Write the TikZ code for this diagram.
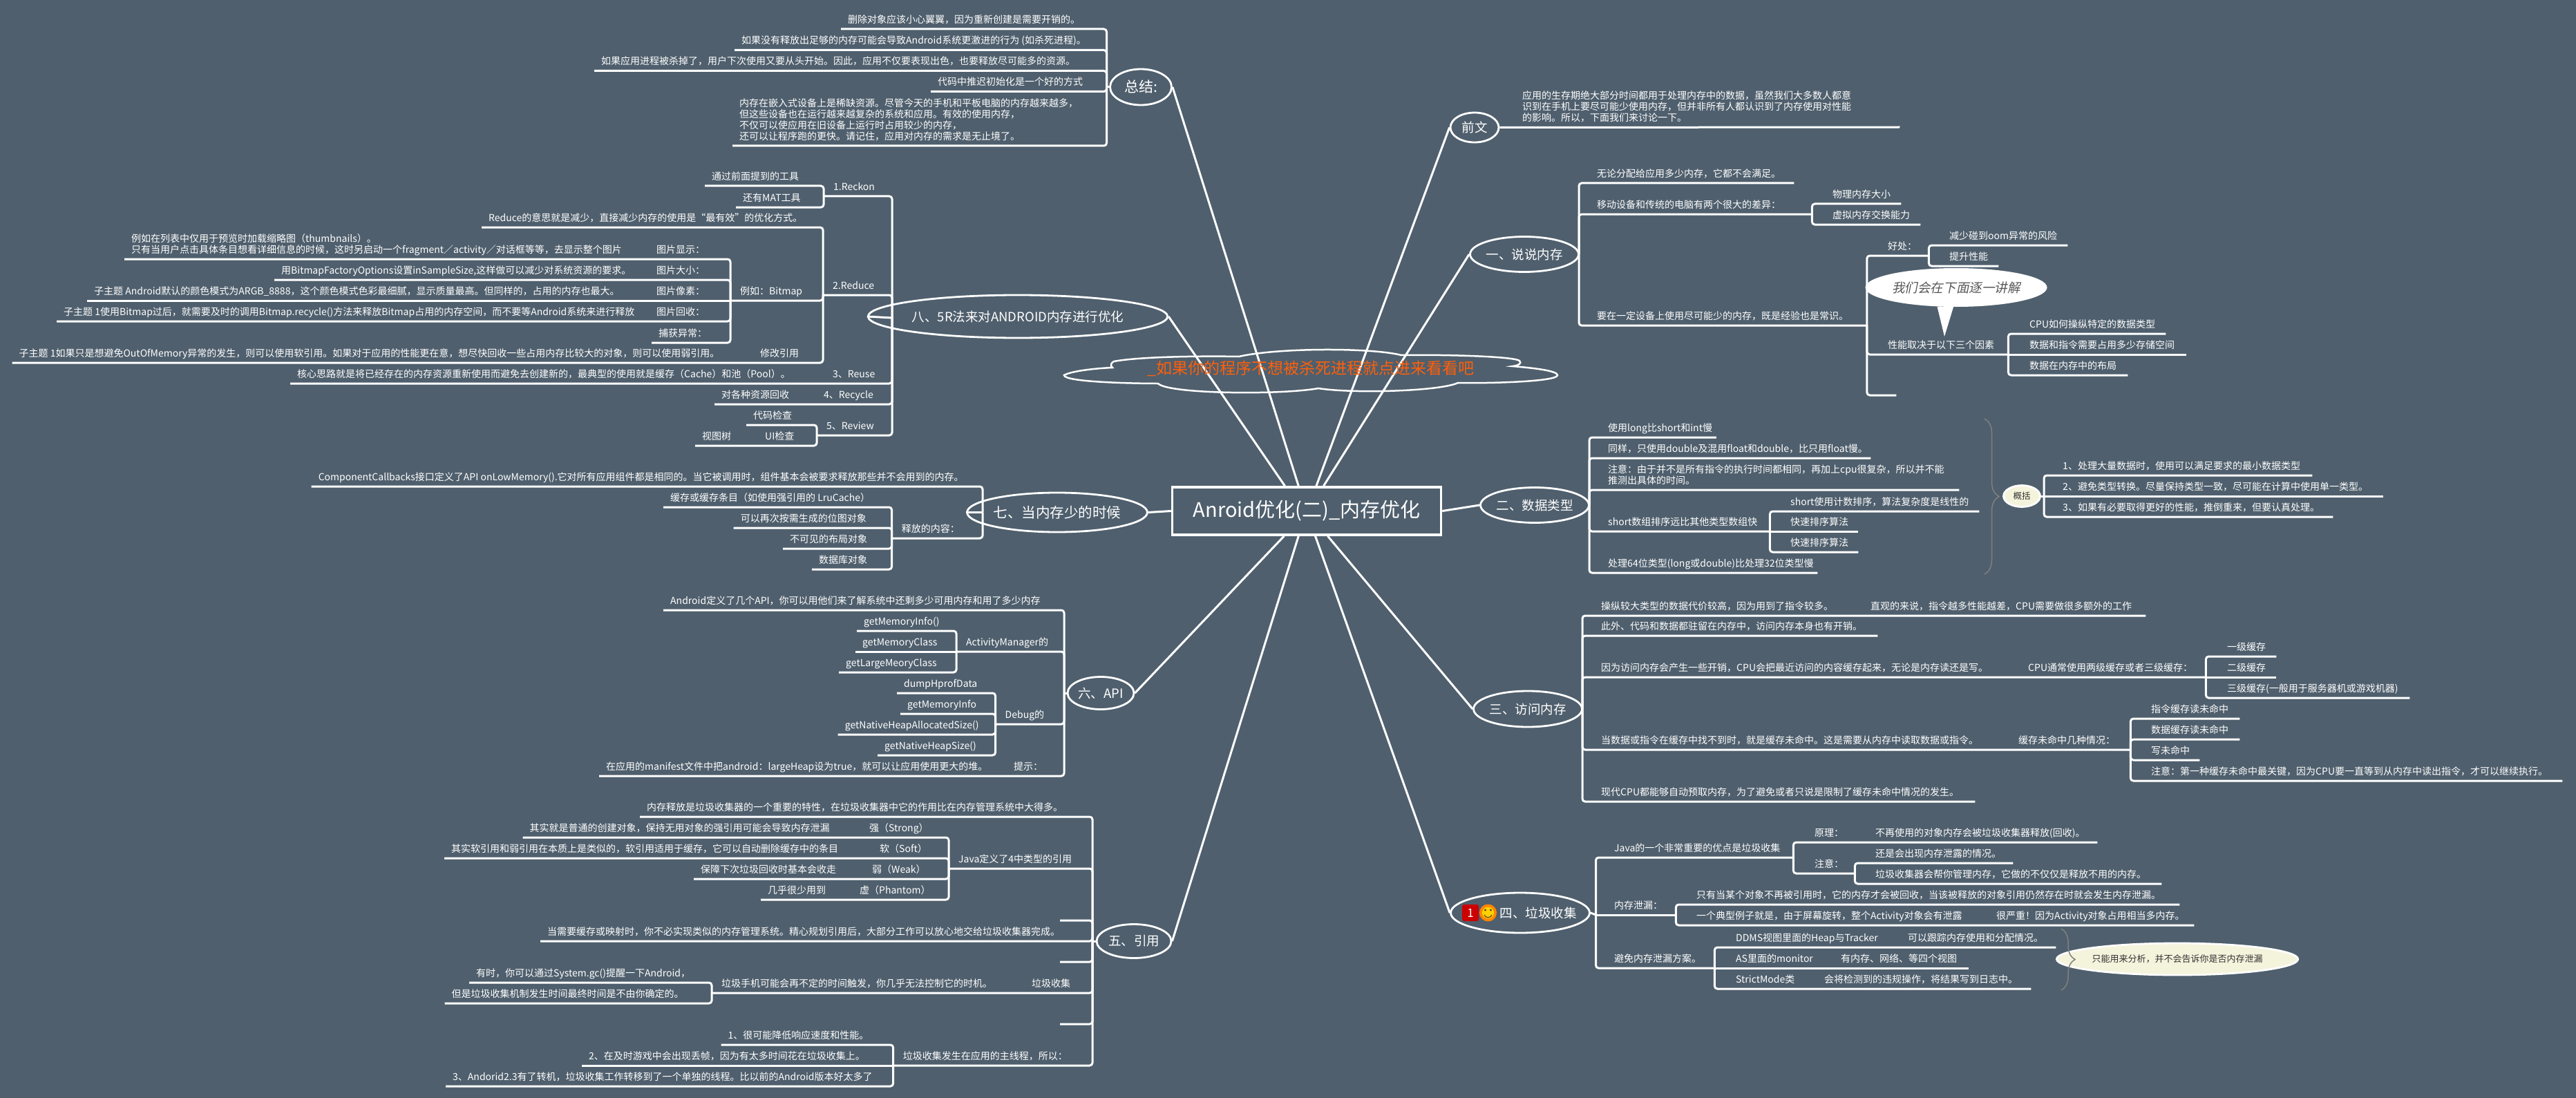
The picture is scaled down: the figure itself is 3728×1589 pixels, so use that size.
\documentclass[tikz,border=0pt]{standalone}
\usepackage{xcolor}
\usepackage{fontspec}
\setmainfont{Noto Sans CJK SC}
\newfontfamily\calloutfont[FakeSlant=0.2]{Noto Sans CJK SC}
\usetikzlibrary{shapes,arrows,positioning}
\usetikzlibrary{decorations.pathreplacing}
\definecolor{bgcol}{HTML}{4F5F6D}
\definecolor{cloudtext}{HTML}{FF5F0A}
\definecolor{sumfill}{HTML}{F4F3DC}
\tikzstyle{txt} = [font=\fontsize{14}{16}\selectfont, text=white, anchor=south west,
    inner ysep=3.5pt, align=left, execute at end node=\strut]
\tikzstyle{ltxt} = [txt, inner xsep=10pt]
\tikzstyle{lhub} = [txt, inner xsep=14pt]
\tikzstyle{rtxt} = [txt, inner xsep=0pt]
\tikzstyle{topic} = [ellipse, draw=white, line width=2.8pt, inner sep=0pt,
    text=white, font=\fontsize{18.5}{22}\selectfont]
\tikzstyle{sumnode} = [ellipse, draw=white, fill=sumfill, line width=2.8pt, inner sep=0pt, text=black!80]
\tikzstyle{line} = [draw=white, line width=3pt, rounded corners=4pt]
\tikzstyle{main} = [draw=white, line width=3pt]
\tikzstyle{sumbrace} = [draw=gray, line width=1.5pt, decorate]

\begin{document}
\begin{tikzpicture}[x=1pt,y=-1pt]
        \useasboundingbox [fill=bgcol] (0,0) rectangle (3728,1589);

        % Central topics
        \node [draw=white, line width=3.5pt, minimum width=389pt, minimum height=69pt, inner sep=0pt, text=white,
            font=\fontsize{29}{34}\selectfont] (root) at (1891,739.5) {Anroid优化(二)\_内存优化};
        \node [topic, minimum width=89pt, minimum height=52pt, font=\fontsize{21}{24}\selectfont] (zongjie) at (1651,126) {总结:};
        \node [topic, minimum width=350pt, minimum height=62pt] (bage) at (1473,458) {八、5R法来对ANDROID内存进行优化};
        \node [topic, minimum width=208pt, minimum height=57pt, font=\fontsize{20.5}{24}\selectfont] (qige) at (1530,741.5) {七、当内存少的时候};
        \node [topic, minimum width=96pt, minimum height=47pt] (liuge) at (1593,1003) {六、API};
        \node [topic, minimum width=108pt, minimum height=49pt] (wuge) at (1641,1362) {五、引用};
        \node [topic, minimum width=70pt, minimum height=43pt] (qianwen) at (2134,184.5) {前文};
        \node [topic, minimum width=146pt, minimum height=51pt] (yige) at (2206,368) {一、说说内存};
        \node [topic, minimum width=145pt, minimum height=51pt] (erge) at (2221,731) {二、数据类型};
        \node [topic, minimum width=146pt, minimum height=52pt] (sange) at (2211,1026) {三、访问内存};
        \node [topic, minimum width=201pt, minimum height=58pt] (sige) at (2200,1321) {};
        \node [text=white, font=\fontsize{18.5}{22}\selectfont, inner sep=0pt] (sitxt) at (2226,1321) {四、垃圾收集};
        \node [fill=red!80!black, rounded corners=3pt, minimum width=24pt, minimum height=24pt, inner sep=0pt, text=white,
            font=\fontsize{17}{20}\selectfont] (badge) at (2128,1321) {1};
        \node [ellipse, fill=orange!95!yellow, minimum width=25pt, minimum height=25pt, inner sep=0pt] (smile) at (2153.5,1321) {};
        \fill [yellow!70!orange] (smile.center) circle (8.5pt);
        \fill [brown!50!black] (2149.5,1317) circle (1.6pt) (2157.5,1317) circle (1.6pt);
        \draw [brown!50!black, line width=1.2pt] (2148,1324) .. controls (2150,1329) and (2157,1329) .. (2159,1324);

        % Summary branch
        \coordinate (zj) at (1601.5,126);
        \node [ltxt] (z1) at (1217,42) {删除对象应该小心翼翼，因为重新创建是需要开销的。};
        \node [ltxt] (z2) at (1063,72.5) {如果没有释放出足够的内存可能会导致Android系统更激进的行为 (如杀死进程)。};
        \node [ltxt] (z3) at (860,102.5) {如果应用进程被杀掉了，用户下次使用又要从头开始。因此，应用不仅要表现出色，也要释放尽可能多的资源。};
        \node [ltxt] (z4) at (1347,132.5) {代码中推迟初始化是一个好的方式};
        \node [ltxt] (z5) at (1060,211) {内存在嵌入式设备上是稀缺资源。尽管今天的手机和平板电脑的内存越来越多，\\但这些设备也在运行越来越复杂的系统和应用。有效的使用内存，\\不仅可以使应用在旧设备上运行时占用较少的内存，\\还可以让程序跑的更快。请记住，应用对内存的需求是无止境了。};

        % 5R branch
        \coordinate (bj) at (1291,460);
        \node [lhub] (r1) at (1192,284) {1.Reckon};
        \node [ltxt] (r11) at (1020,269) {通过前面提到的工具};
        \node [ltxt] (r12) at (1065,300) {还有MAT工具};
        \node [lhub] (r2) at (1191,427) {2.Reduce};
        \node [ltxt] (r21) at (697,329) {Reduce的意思就是减少，直接减少内存的使用是“最有效”的优化方式。};
        \node [lhub] (bitmap) at (1057,435) {例如：Bitmap};
        \node [ltxt] (xianshi) at (940,375) {图片显示：};
        \node [ltxt] (xianshi1) at (180,375) {例如在列表中仅用于预览时加载缩略图（thumbnails）。\\只有当用户点击具体条目想看详细信息的时候，这时另启动一个fragment／activity／对话框等等，去显示整个图片};
        \node [ltxt] (daxiao) at (940,405) {图片大小：};
        \node [ltxt] (daxiao1) at (397,405) {用BitmapFactoryOptions设置inSampleSize,这样做可以减少对系统资源的要求。};
        \node [ltxt] (xiangsu) at (940,435) {图片像素：};
        \node [ltxt] (xiangsu1) at (126,435) {子主题 Android默认的颜色模式为ARGB\_8888，这个颜色模式色彩最细腻，显示质量最高。但同样的，占用的内存也最大。};
        \node [ltxt] (huishou) at (940,465) {图片回收：};
        \node [ltxt] (huishou1) at (82,465) {子主题 1使用Bitmap过后，就需要及时的调用Bitmap.recycle()方法来释放Bitmap占用的内存空间，而不要等Android系统来进行释放};
        \node [ltxt] (buhuo) at (943,496) {捕获异常：};
        \node [ltxt] (yinyong) at (1090,525) {修改引用};
        \node [ltxt] (yinyong1) at (17.5,525) {子主题 1如果只是想避免OutOfMemory异常的发生，则可以使用软引用。如果对于应用的性能更在意，想尽快回收一些占用内存比较大的对象，则可以使用弱引用。};
        \node [lhub] (r3) at (1191,555) {3、Reuse};
        \node [ltxt] (r31) at (420,555) {核心思路就是将已经存在的内存资源重新使用而避免去创建新的，最典型的使用就是缓存（Cache）和池（Pool）。};
        \node [lhub] (r4) at (1178,585) {4、Recycle};
        \node [ltxt] (r41) at (1034,585) {对各种资源回收};
        \node [lhub] (r5) at (1182,630) {5、Review};
        \node [ltxt] (r51) at (1080,615) {代码检查};
        \node [ltxt] (r52) at (1097,645) {UI检查};
        \node [ltxt] (r521) at (1006,645) {视图树};

        % Low memory branch
        \coordinate (qj) at (1422,741.5);
        \node [ltxt] (qi1) at (450.6,704) {ComponentCallbacks接口定义了API onLowMemory().它对所有应用组件都是相同的。当它被调用时，组件基本会被要求释放那些并不会用到的内存。};
        \node [lhub] (qi2) at (1290.6,779) {释放的内容：};
        \node [ltxt] (qi21) at (960,734) {缓存或缓存条目（如使用强引用的 LruCache）};
        \node [ltxt] (qi22) at (1061.7,764) {可以再次按需生成的位图对象};
        \node [ltxt] (qi23) at (1133,794) {不可见的布局对象};
        \node [ltxt] (qi24) at (1175,824) {数据库对象};

        % API branch
        \coordinate (lj) at (1540,1003);
        \node [ltxt] (liu1) at (960,883) {Android定义了几个API，你可以用他们来了解系统中还剩多少可用内存和用了多少内存};
        \node [lhub] (liu2) at (1384,943) {ActivityManager的};
        \node [ltxt] (liu21) at (1240,913) {getMemoryInfo()};
        \node [ltxt] (liu22) at (1238,943) {getMemoryClass};
        \node [ltxt] (liu23) at (1214,973) {getLargeMeoryClass};
        \node [lhub] (liu3) at (1440.5,1048) {Debug的};
        \node [ltxt] (liu31) at (1298,1003) {dumpHprofData};
        \node [ltxt] (liu32) at (1303,1033) {getMemoryInfo};
        \node [ltxt] (liu33) at (1212.6,1063) {getNativeHeapAllocatedSize()};
        \node [ltxt] (liu34) at (1270,1093) {getNativeHeapSize()};
        \node [ltxt] (liu4) at (1457,1123) {提示：};
        \node [ltxt] (liu41) at (867,1123) {在应用的manifest文件中把android：largeHeap设为true，就可以让应用使用更大的堆。};

        % Reference branch
        \coordinate (wj) at (1581,1362);
        \node [ltxt] (wu1) at (926,1182) {内存释放是垃圾收集器的一个重要的特性，在垃圾收集器中它的作用比在内存管理系统中大得多。};
        \node [lhub] (wu2) at (1373,1257) {Java定义了4中类型的引用};
        \node [ltxt] (wu21) at (1248,1212) {强（Strong）};
        \node [ltxt] (wu211) at (756.5,1212) {其实就是普通的创建对象，保持无用对象的强引用可能会导致内存泄漏};
        \node [ltxt] (wu22) at (1263,1242) {软（Soft）};
        \node [ltxt] (wu221) at (643,1242) {其实软引用和弱引用在本质上是类似的，软引用适用于缓存，它可以自动删除缓存中的条目};
        \node [ltxt] (wu23) at (1252,1272) {弱（Weak）};
        \node [ltxt] (wu231) at (1004,1272) {保障下次垃圾回收时基本会收走};
        \node [ltxt] (wu24) at (1234,1302) {虚（Phantom）};
        \node [ltxt] (wu241) at (1101,1302) {几乎很少用到};
        \node [ltxt, minimum width=47pt] (wu3) at (1534,1332) {};
        \node [ltxt] (wu4) at (782,1362) {当需要缓存或映射时，你不必实现类似的内存管理系统。精心规划引用后，大部分工作可以放心地交给垃圾收集器完成。};
        \node [ltxt, minimum width=47pt] (wu5) at (1534,1392) {};
        \node [ltxt] (wu6) at (1483,1437) {垃圾收集};
        \node [lhub] (wu61) at (1030,1437) {垃圾手机可能会再不定的时间触发，你几乎无法控制它的时机。};
        \node [ltxt] (wu611) at (679,1422) {有时，你可以通过System.gc()提醒一下Android，};
        \node [ltxt] (wu612) at (643.5,1452) {但是垃圾收集机制发生时间最终时间是不由你确定的。};
        \node [ltxt, minimum width=47pt] (wu7) at (1534,1482) {};
        \node [lhub] (wu8) at (1292.6,1542) {垃圾收集发生在应用的主线程，所以：};
        \node [ltxt] (wu81) at (1043.5,1512) {1、很可能降低响应速度和性能。};
        \node [ltxt] (wu82) at (842,1542) {2、在及时游戏中会出现丢帧，因为有太多时间花在垃圾收集上。};
        \node [ltxt] (wu83) at (645,1572) {3、Andorid2.3有了转机，垃圾收集工作转移到了一个单独的线程。比以前的Android版本好太多了};

        % Preface branch
        \node [rtxt, text width=546pt] (q1) at (2203,184) {应用的生存期绝大部分时间都用于处理内存中的数据，虽然我们大多数人都意\\识到在手机上要尽可能少使用内存，但并非所有人都认识到了内存使用对性能\\的影响。所以，下面我们来讨论一下。};

        % Memory branch
        \coordinate (yj) at (2285,368);
        \node [rtxt, text width=285pt] (y1) at (2311,265) {无论分配给应用多少内存，它都不会满足。};
        \node [rtxt, text width=311pt] (y2) at (2311,310) {移动设备和传统的电脑有两个很大的差异：};
        \node [rtxt, text width=99pt] (y21) at (2652,295) {物理内存大小};
        \node [rtxt, text width=127pt] (y22) at (2652,325) {虚拟内存交换能力};
        \node [rtxt, text width=390.5pt] (y3) at (2311,471) {要在一定设备上使用尽可能少的内存，既是经验也是常识。};
        \node [rtxt, text width=59pt] (y31) at (2732,370) {好处：};
        \node [rtxt, text width=171pt] (y311) at (2821,355) {减少碰到oom异常的风险};
        \node [rtxt, text width=71pt] (y312) at (2821,385) {提升性能};
        \node [rtxt, text width=174pt] (y32) at (2732,513) {性能取决于以下三个因素};
        \node [rtxt, text width=197pt] (y321) at (2937,483) {CPU如何操纵特定的数据类型};
        \node [rtxt, text width=227pt] (y322) at (2937,513) {数据和指令需要占用多少存储空间};
        \node [rtxt, text width=142pt] (y323) at (2937,543) {数据在内存中的布局};
        \node [rtxt, text width=12pt] (y33) at (2732,572) {};

        % Data type branch
        \coordinate (ej) at (2300,731);
        \node [rtxt, text width=156.5pt] (e1) at (2327,633) {使用long比short和int慢};
        \node [rtxt, text width=380pt] (e2) at (2327,663) {同样，只使用double及混用float和double，比只用float慢。};
        \node [rtxt, text width=508pt] (e3) at (2327,709) {注意：由于并不是所有指令的执行时间都相同，再加上cpu很复杂，所以并不能\\推测出具体的时间。};
        \node [rtxt, text width=234pt] (e4) at (2327,769) {short数组排序远比其他类型数组快};
        \node [rtxt, text width=273pt] (e41) at (2591,740) {short使用计数排序，算法复杂度是线性的};
        \node [rtxt, text width=98pt] (e42) at (2591,769) {快速排序算法};
        \node [rtxt, text width=98pt] (e43) at (2591,799) {快速排序算法};
        \node [rtxt, text width=303pt] (e5) at (2327,829) {处理64位类型(long或double)比处理32位类型慢};
        \node [sumnode, minimum width=53pt, minimum height=31pt, font=\fontsize{12.5}{14}\selectfont] (gaikuo) at (2926,718) {概括};
        \coordinate (gj) at (2958,718);
        \node [rtxt, text width=361pt] (g1) at (2985,688) {1、处理大量数据时，使用可以满足要求的最小数据类型};
        \node [rtxt, text width=463.5pt] (g2) at (2985,718) {2、避免类型转换。尽量保持类型一致，尽可能在计算中使用单一类型。};
        \node [rtxt, text width=391pt] (g3) at (2985,748) {3、如果有必要取得更好的性能，推倒重来，但要认真处理。};
        \coordinate (gt) at (2872,606);
        \coordinate (gb) at (2872,831);

        % Access branch
        \coordinate (sj) at (2290,1026);
        \node [rtxt] (s1) at (2317,891) {操纵较大类型的数据代价较高，因为用到了指令较多。};
        \node [rtxt, text width=398pt] (s11) at (2707,891) {直观的来说，指令越多性能越差，CPU需要做很多额外的工作};
        \node [rtxt, text width=400pt] (s2) at (2317,920) {此外、代码和数据都驻留在内存中，访问内存本身也有开销。};
        \node [rtxt] (s3) at (2317,980) {因为访问内存会产生一些开销，CPU会把最近访问的内容缓存起来，无论是内存读还是写。};
        \node [rtxt, text width=257pt] (s31) at (2935,980) {CPU通常使用两级缓存或者三级缓存：};
        \node [rtxt, text width=71pt] (s311) at (3223,950) {一级缓存};
        \node [rtxt, text width=71pt] (s312) at (3223,980) {二级缓存};
        \node [rtxt, text width=264pt] (s313) at (3223,1010) {三级缓存(一般用于服务器机或游戏机器)};
        \node [rtxt] (s4) at (2317,1085) {当数据或指令在缓存中找不到时，就是缓存未命中。这是需要从内存中读取数据或指令。};
        \node [rtxt, text width=162pt] (s41) at (2921,1085) {缓存未命中几种情况：};
        \node [rtxt, text width=128pt] (s411) at (3113,1040) {指令缓存读未命中};
        \node [rtxt, text width=128pt] (s412) at (3113,1070) {数据缓存读未命中};
        \node [rtxt, text width=70pt] (s413) at (3113,1100) {写未命中};
        \node [rtxt, text width=595pt] (s414) at (3113,1130) {注意：第一种缓存未命中最关键，因为CPU要一直等到从内存中读出指令，才可以继续执行。};
        \node [rtxt, text width=541pt] (s5) at (2317,1160) {现代CPU都能够自动预取内存，为了避免或者只说是限制了缓存未命中情况的发生。};

        % Garbage branch
        \coordinate (fj) at (2309.5,1324);
        \node [rtxt, text width=259pt] (l1) at (2336,1241) {Java的一个非常重要的优点是垃圾收集};
        \node [rtxt] (l11) at (2626,1219) {原理：};
        \node [rtxt, text width=321pt] (l111) at (2714,1219) {不再使用的对象内存会被垃圾收集器释放(回收)。};
        \node [rtxt, text width=58pt] (l12) at (2626,1264) {注意：};
        \node [rtxt, text width=199pt] (l121) at (2714,1249) {还是会出现内存泄露的情况。};
        \node [rtxt, text width=414pt] (l122) at (2714,1279) {垃圾收集器会帮你管理内存，它做的不仅仅是释放不用的内存。};
        \node [rtxt, text width=89pt] (l2) at (2336,1324) {内存泄漏：};
        \node [rtxt, text width=699pt] (l21) at (2455,1309) {只有当某个对象不再被引用时，它的内存才会被回收，当该被释放的对象引用仍然存在时就会发生内存泄漏。};
        \node [rtxt] (l22) at (2455,1339) {一个典型例子就是，由于屏幕旋转，整个Activity对象会有泄露};
        \node [rtxt, text width=286pt] (l221) at (2889,1339) {很严重！因为Activity对象占用相当多内存。};
        \node [rtxt, text width=145pt] (l3) at (2336,1401) {避免内存泄漏方案。};
        \node [rtxt] (l31) at (2512,1371) {DDMS视图里面的Heap与Tracker};
        \node [rtxt, text width=214pt] (l311) at (2761,1371) {可以跟踪内存使用和分配情况。};
        \node [rtxt] (l32) at (2512,1401) {AS里面的monitor};
        \node [rtxt, text width=185pt] (l321) at (2664,1401) {有内存、网络、等四个视图};
        \node [rtxt] (l33) at (2512,1431) {StrictMode类};
        \node [rtxt, text width=299pt] (l331) at (2640,1431) {会将检测到的违规操作，将结果写到日志中。};
        \node [sumnode, minimum width=282pt, minimum height=46pt, font=\fontsize{13}{15}\selectfont] (fenxi) at (3151,1388) {只能用来分析，并不会告诉你是否内存泄漏};
        \coordinate (ft) at (2983,1344);
        \coordinate (fb) at (2983,1433);

        % Connections from the root
        \path [main] (root.131) -- (bage.east);
        \path [main] (root.108) -- (zongjie.east);
        \path [main] (root.69) -- (qianwen.west);
        \path [main] (root.56) -- (yige.west);
        \path [main] (root.228) -- (liuge.east);
        \path [main] (root.252) -- (wuge.east);
        \path [main] (root.289) -- (sige.west);
        \path [main] (root.310) -- (sange.west);
        \path [main] (qige.east) -- (root.west);
        \path [main] (root.east) -- (erge.west);

        % Connections left side
        \path [line] (zongjie.west) -- (zj);
        \path [line] (zj) |- (z1.south west);
        \path [line] (zj) |- (z2.south west);
        \path [line] (zj) |- (z3.south west);
        \path [line] (zj) |- (z4.south west);
        \path [line] (zj) |- (z5.south west);

        \path [line] (bage.west) -- (bj);
        \path [line] (bj) |- (r1.south west);
        \path [line] (bj) |- (r2.south west);
        \path [line] (bj) |- (r3.south west) -- (r31.south west);
        \path [line] (bj) |- (r4.south west) -- (r41.south west);
        \path [line] (bj) |- (r5.south west);
        \path [line] (r1.south west) |- (r11.south west);
        \path [line] (r1.south west) |- (r12.south west);
        \path [line] (r2.south west) |- (r21.south west);
        \path [line] (r2.south west) |- (bitmap.south west);
        \path [line] (r2.south west) |- (yinyong.south west) -- (yinyong1.south west);
        \path [line] (bitmap.south west) |- (xianshi.south west) -- (xianshi1.south west);
        \path [line] (bitmap.south west) |- (daxiao.south west) -- (daxiao1.south west);
        \path [line] (bitmap.south west) -- (xiangsu.south west) -- (xiangsu1.south west);
        \path [line] (bitmap.south west) |- (huishou.south west) -- (huishou1.south west);
        \path [line] (bitmap.south west) |- (buhuo.south west);
        \path [line] (r5.south west) |- (r51.south west);
        \path [line] (r5.south west) |- (r52.south west) -- (r521.south west);

        \path [line] (qige.west) -- (qj);
        \path [line] (qj) |- (qi1.south west);
        \path [line] (qj) |- (qi2.south west);
        \path [line] (qi2.south west) |- (qi21.south west);
        \path [line] (qi2.south west) |- (qi22.south west);
        \path [line] (qi2.south west) |- (qi23.south west);
        \path [line] (qi2.south west) |- (qi24.south west);

        \path [line] (liuge.west) -- (lj);
        \path [line] (lj) |- (liu1.south west);
        \path [line] (lj) |- (liu2.south west);
        \path [line] (lj) |- (liu3.south west);
        \path [line] (lj) |- (liu4.south west) -- (liu41.south west);
        \path [line] (liu2.south west) |- (liu21.south west);
        \path [line] (liu2.south west) -- (liu22.south west);
        \path [line] (liu2.south west) |- (liu23.south west);
        \path [line] (liu3.south west) |- (liu31.south west);
        \path [line] (liu3.south west) |- (liu32.south west);
        \path [line] (liu3.south west) |- (liu33.south west);
        \path [line] (liu3.south west) |- (liu34.south west);

        \path [line] (wuge.west) -- (wj);
        \path [line] (wj) |- (wu1.south west);
        \path [line] (wj) |- (wu2.south west);
        \path [line] (wj) |- (wu3.south west);
        \path [line] (wj) |- (wu4.south west);
        \path [line] (wj) |- (wu5.south west);
        \path [line] (wj) |- (wu6.south west) -- (wu61.south west);
        \path [line] (wj) |- (wu7.south west);
        \path [line] (wj) |- (wu8.south west);
        \path [line] (wu2.south west) |- (wu21.south west) -- (wu211.south west);
        \path [line] (wu2.south west) |- (wu22.south west) -- (wu221.south west);
        \path [line] (wu2.south west) |- (wu23.south west) -- (wu231.south west);
        \path [line] (wu2.south west) |- (wu24.south west) -- (wu241.south west);
        \path [line] (wu61.south west) |- (wu611.south west);
        \path [line] (wu61.south west) |- (wu612.south west);
        \path [line] (wu8.south west) |- (wu81.south west);
        \path [line] (wu8.south west) -- (wu82.south west);
        \path [line] (wu8.south west) |- (wu83.south west);

        % Connections right side
        \path [line] (qianwen.east) -- (q1.south east);

        \path [line] (yige.east) -- (yj);
        \path [line] (yj) |- (y1.south east);
        \path [line] (yj) |- (y2.south east);
        \path [line] (yj) |- (y3.south east);
        \path [line] (y2.south east) |- (y21.south east);
        \path [line] (y2.south east) |- (y22.south east);
        \path [line] (y3.south east) |- (y31.south east);
        \path [line] (y3.south east) |- (y32.south east);
        \path [line] (y3.south east) |- (y33.south east);
        \path [line] (y31.south east) |- (y311.south east);
        \path [line] (y31.south east) |- (y312.south east);
        \path [line] (y32.south east) |- (y321.south east);
        \path [line] (y32.south east) -- (y322.south east);
        \path [line] (y32.south east) |- (y323.south east);

        \path [line] (erge.east) -- (ej);
        \path [line] (ej) |- (e1.south east);
        \path [line] (ej) |- (e2.south east);
        \path [line] (ej) |- (e3.south east);
        \path [line] (ej) |- (e4.south east);
        \path [line] (ej) |- (e5.south east);
        \path [line] (e4.south east) |- (e41.south east);
        \path [line] (e4.south east) -- (e42.south east);
        \path [line] (e4.south east) |- (e43.south east);
        \path [line] (gaikuo.east) -- (gj);
        \path [line] (gj) |- (g1.south east);
        \path [line] (gj) -- (g2.south east);
        \path [line] (gj) |- (g3.south east);
        \path [sumbrace, decoration={brace, amplitude=21pt}] (gt) -- (gb);

        \path [line] (sange.east) -- (sj);
        \path [line] (sj) |- (s1.south west) -- (s11.south east);
        \path [line] (sj) |- (s2.south east);
        \path [line] (sj) |- (s3.south west) -- (s31.south east);
        \path [line] (sj) |- (s4.south west) -- (s41.south east);
        \path [line] (sj) |- (s5.south east);
        \path [line] (s31.south east) |- (s311.south east);
        \path [line] (s31.south east) -- (s312.south east);
        \path [line] (s31.south east) |- (s313.south east);
        \path [line] (s41.south east) |- (s411.south east);
        \path [line] (s41.south east) |- (s412.south east);
        \path [line] (s41.south east) |- (s413.south east);
        \path [line] (s41.south east) |- (s414.south east);

        \path [line] (sige.east) -- (fj);
        \path [line] (fj) |- (l1.south east);
        \path [line] (fj) -- (l2.south east);
        \path [line] (fj) |- (l3.south east);
        \path [line] (l1.south east) |- (l11.south west) -- (l111.south east);
        \path [line] (l1.south east) |- (l12.south east);
        \path [line] (l12.south east) |- (l121.south east);
        \path [line] (l12.south east) |- (l122.south east);
        \path [line] (l2.south east) |- (l21.south east);
        \path [line] (l2.south east) |- (l22.south west) -- (l221.south east);
        \path [line] (l3.south east) |- (l31.south west) -- (l311.south east);
        \path [line] (l3.south east) -- (l32.south west) -- (l321.south east);
        \path [line] (l3.south east) |- (l33.south west) -- (l331.south east);
        \path [sumbrace, decoration={brace, amplitude=20pt}] (ft) -- (fb);

        % Cloud note
        \draw [draw=white, line width=2.5pt] (1540,543) .. controls (1550,537) and (1585,533) .. (1610,532)
            .. controls (1606,529) and (1608,525) .. (1612,523)
            .. controls (1650,516) and (1740,515) .. (1793,516)
            .. controls (1850,503) and (1985,503) .. (2028,514)
            .. controls (2100,513) and (2190,516) .. (2199,522)
            .. controls (2203,526) and (2197,529) .. (2189,530)
            .. controls (2225,533) and (2254,537) .. (2254,543)
            .. controls (2254,552) and (2160,555) .. (2110,554)
            .. controls (2085,566) and (1960,570) .. (1908,562)
            .. controls (1850,572) and (1690,570) .. (1676,555)
            .. controls (1640,555) and (1540,553) .. cycle;
        \node [text=cloudtext, font=\fontsize{23}{26}\selectfont, inner sep=0pt] (cloudtxt) at (1897,533) {\_如果你的程序不想被杀死进程就点进来看看吧};

        % Callout
        \node [ellipse, fill=white, minimum width=224pt, minimum height=56pt, inner sep=0pt, text=black!65,
            font=\calloutfont\fontsize{18.6}{22}\selectfont] (callout) at (2831,416) {我们会在下面逐一讲解};
        \coordinate (calltip) at (2814,487);
        \fill [white] (callout.225) -- (callout.262) -- (calltip) -- cycle;
    \end{tikzpicture}
\end{document}
